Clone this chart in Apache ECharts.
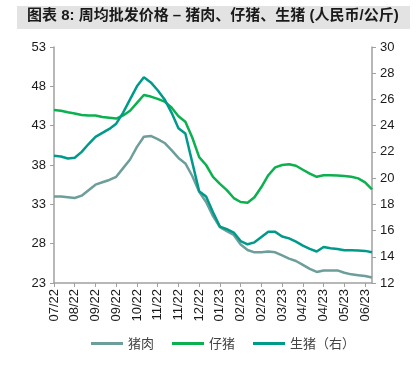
<!DOCTYPE html>
<html>
<head>
<meta charset="utf-8">
<script src="https://cdn.jsdelivr.net/npm/echarts@6/dist/echarts.min.js"></script>
<style>
  html, body { margin: 0; padding: 0; background: #fff; }
  #chart { width: 418px; height: 375px; }
</style>
</head>
<body>
<div id="chart"></div>
<script>
// tick labels shown every 3rd week
const tickLabels = ['07/22', '08/22', '09/22', '09/22', '10/22', '11/22', '11/22', '12/22',
  '01/23', '02/23', '02/23', '03/23', '04/23', '04/23', '05/23', '06/23'];

// weekly prices, RMB/kg
const pork = [34.0, 34.0, 33.9, 33.8, 34.1, 34.8, 35.5, 35.8, 36.1, 36.5, 37.6, 38.7, 40.3, 41.6, 41.7, 41.3,
  40.8, 39.9, 38.9, 38.2, 36.6, 34.6, 33.3, 31.5, 30.1, 29.6, 29.1, 27.9, 27.2, 26.9, 26.9, 27.0,
  26.9, 26.5, 26.1, 25.8, 25.3, 24.8, 24.4, 24.6, 24.6, 24.6, 24.3, 24.1, 24.0, 23.9, 23.7];
const piglet = [45.0, 44.9, 44.7, 44.55, 44.35, 44.3, 44.3, 44.1, 44.0, 43.9, 44.3, 44.9, 45.9, 46.9, 46.7, 46.4,
  46.05, 45.3, 44.2, 43.5, 41.5, 39.0, 38.0, 36.5, 35.6, 34.8, 33.8, 33.3, 33.2, 33.9, 35.2, 36.7,
  37.7, 38.0, 38.1, 37.9, 37.4, 36.9, 36.5, 36.7, 36.7, 36.65, 36.6, 36.5, 36.3, 35.8, 34.9];
const liveHog = [21.7, 21.65, 21.5, 21.55, 22.0, 22.6, 23.15, 23.45, 23.75, 24.15, 25.0, 26.0, 27.0, 27.7, 27.3, 26.7,
  26.0, 25.0, 23.8, 23.4, 21.2, 19.0, 18.6, 17.4, 16.3, 16.1, 15.85, 15.2, 14.95, 15.1, 15.5, 15.9,
  15.9, 15.55, 15.4, 15.15, 14.85, 14.6, 14.4, 14.75, 14.65, 14.6, 14.5, 14.5, 14.48, 14.45, 14.35];

const weeks = pork.map((_, i) => String(i));

const chart = echarts.init(document.getElementById('chart'));
const axisFont = { fontFamily: 'Liberation Sans, Arial, sans-serif', fontSize: 13, color: '#1a1a1a' };

chart.setOption({
  animation: false,
  graphic: [
    { type: 'rect', left: 17, top: 6, shape: { width: 393, height: 23 }, style: { fill: '#e3e3e3' } },
    {
      type: 'text', left: 27, top: 8,
      style: {
        text: '图表 8: 周均批发价格 – 猪肉、仔猪、生猪 (人民币/公斤)',
        font: 'bold 15px "Liberation Sans", "Noto Sans CJK SC", sans-serif',
        fill: '#1a1a1a'
      }
    }
  ],
  grid: { left: 54, right: 46, top: 47, bottom: 92 },
  legend: {
    bottom: 20,
    left: 86,
    icon: 'rect',
    itemWidth: 32,
    itemHeight: 3,
    itemGap: 18,
    textStyle: { fontFamily: 'Noto Sans CJK SC', fontSize: 13, color: '#444' },
    data: ['猪肉', '仔猪', '生猪（右）']
  },
  xAxis: {
    type: 'category',
    data: weeks,
    boundaryGap: false,
    axisLine: { lineStyle: { color: '#a0a0a0', width: 1.5 } },
    axisTick: { interval: 2, length: 4, lineStyle: { color: '#a0a0a0' } },
    axisLabel: {
      interval: 2, rotate: 90, margin: 6,
      ...axisFont,
      formatter: (v, i) => tickLabels[i / 3] || ''
    }
  },
  yAxis: [
    {
      type: 'value', min: 23, max: 53, interval: 5,
      splitLine: { show: false },
      axisLine: { show: true, lineStyle: { color: '#a0a0a0', width: 1.5 } },
      axisTick: { show: true, length: 4, lineStyle: { color: '#a0a0a0' } },
      axisLabel: { ...axisFont, margin: 8 }
    },
    {
      type: 'value', min: 12, max: 30, interval: 2,
      splitLine: { show: false },
      axisLine: { show: true, lineStyle: { color: '#a0a0a0', width: 1.5 } },
      axisTick: { show: true, length: 4, lineStyle: { color: '#a0a0a0' } },
      axisLabel: { ...axisFont, margin: 8 }
    }
  ],
  series: [
    { name: '猪肉', type: 'line', data: pork, yAxisIndex: 0, showSymbol: false,
      lineStyle: { width: 2.5, color: '#6c9e9b' }, itemStyle: { color: '#6c9e9b' } },
    { name: '仔猪', type: 'line', data: piglet, yAxisIndex: 0, showSymbol: false,
      lineStyle: { width: 2.5, color: '#0bb04f' }, itemStyle: { color: '#0bb04f' } },
    { name: '生猪（右）', type: 'line', data: liveHog, yAxisIndex: 1, showSymbol: false,
      lineStyle: { width: 2.5, color: '#009a8a' }, itemStyle: { color: '#009a8a' } }
  ]
});
</script>
</body>
</html>
